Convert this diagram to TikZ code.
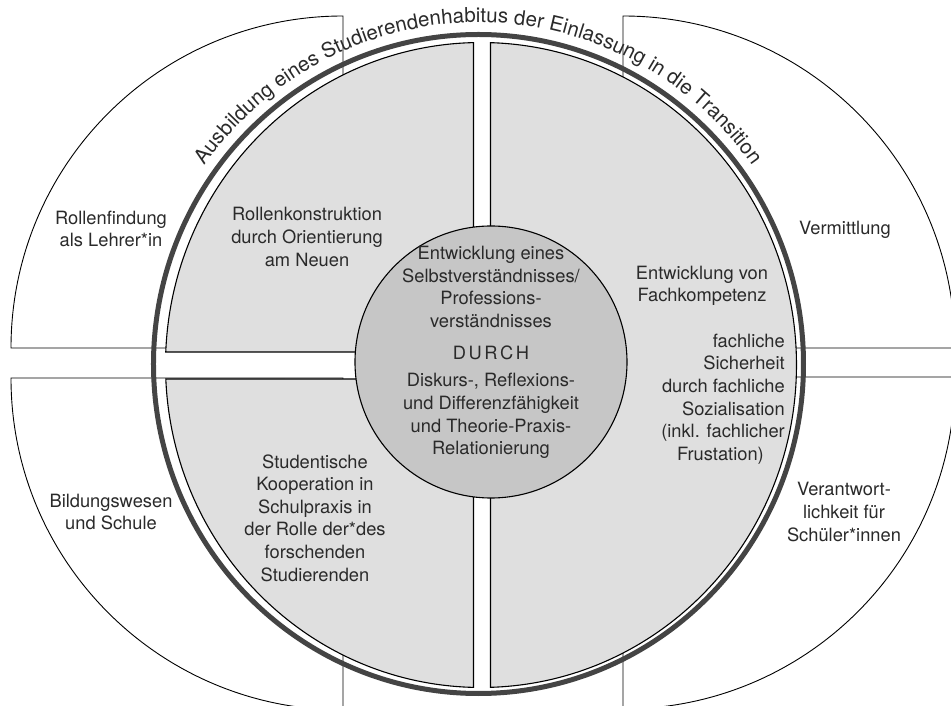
\documentclass[tikz,border=0pt]{standalone}
\usepackage{fontspec}
\setmainfont{TeX Gyre Heros}
\usetikzlibrary{decorations.text}
\definecolor{ringgray}{HTML}{444444}
\definecolor{quadgray}{HTML}{DFDFDF}
\definecolor{coregray}{HTML}{C6C6C6}
\definecolor{inkgray}{HTML}{2A2A2A}
\begin{document}
\begin{tikzpicture}[x=1pt,y=1pt,
  sector/.style={fill=white,draw=black,line width=0.9pt},
  quadrant/.style={fill=quadgray,draw=black,line width=1.1pt},
  core/.style={fill=coregray,draw=black,line width=1.1pt},
  ring/.style={draw=ringgray,line width=5pt},
  lbl/.style={text=inkgray,align=center,inner sep=0pt,
    font=\fontsize{18.3}{22.6}\selectfont},
]
\useasboundingbox (-482,-342) rectangle (469,364);
\clip (-482,-342) rectangle (469,364);

% outer quarter sectors
\draw[sector] (-139,16) -- (-471,16) arc[start angle=180,end angle=90,radius=332] -- cycle;
\draw[sector] (-139,-14) -- (-471,-14) arc[start angle=180,end angle=270,radius=332] -- cycle;
\draw[sector] (141,16) -- (473,16) arc[start angle=0,end angle=90,radius=332] -- cycle;
\draw[sector] (141,-13) -- (473,-13) arc[start angle=0,end angle=-90,radius=332] -- cycle;

% thick outer ring
\draw[ring] (-3.5,0) ellipse[x radius=325,y radius=329.5];

% inner quadrants
\begin{scope}[shift={(-1,-1)}]
\draw[quadrant] (-7.5,13) -- (91.36:315.5 and 322.5)
  arc[start angle=91.36,end angle=177.69,x radius=315.5,y radius=322.5] -- cycle;
\draw[quadrant] (-7.5,-14) -- (182.49:315.5 and 322.5)
  arc[start angle=182.49,end angle=268.64,x radius=315.5,y radius=322.5] -- cycle;
\draw[quadrant] (88.27:315.5 and 322.5)
  arc[start angle=88.27,end angle=-88.27,x radius=315.5,y radius=322.5] -- cycle;
\end{scope}

% central disk
\draw[core] (9,2) circle[radius=136];

% title along the ring
\path[decorate,decoration={text along path,text align=center,
  text={|\fontsize{20.5}{24}\selectfont\color{inkgray}|Ausbildung eines Studierendenhabitus der Einlassung in die Transition}}]
  (-3.5,0) ++(150:336.5 and 341.5) arc[start angle=150,end angle=30,x radius=336.5,y radius=341.5];

% labels
\node[lbl] (rollenfindung) at (-371,135) {Rollenfindung\\als Lehrer*in};
\node[lbl] (bildung) at (-371,-148) {Bildungswesen\\und Schule};
\node[lbl] (vermittlung) at (363,134) {Vermittlung};
\node[lbl] (verantwortung) at (362,-148) {Verantwort-\\lichkeit für\\Schüler*innen};
\node[lbl] (rollenkonstr) at (-175,127) {Rollenkonstruktion\\durch Orientierung\\am Neuen};
\node[lbl] (fachkomp) at (220,78) {Entwicklung von\\Fachkompetenz};
\node[lbl,align=right,anchor=east] (sicherheit) at (303,-35)
  {fachliche\\Sicherheit\\durch fachliche\hspace*{2pt}\\Sozialisation\hspace*{8pt}\\(inkl. fachlicher\hspace*{13pt}\\Frustation)\hspace*{21pt}};
\node[lbl] (kooperation) at (-167,-154) {Studentische\\Kooperation in\\Schulpraxis in\\der Rolle der*des\\forschenden\\Studierenden};
\node[lbl] (selbst) at (9,77) {Entwicklung eines\\Selbstverständnisses/\\Professions-\\verständnisses};
\node[lbl] (durch) at (9,11) {D\kern2.5pt U\kern2.5pt R\kern2.5pt C\kern2.5pt H};
\node[lbl] (diskurs) at (9,-52) {Diskurs-, Reflexions-\\und Differenzfähigkeit\\und Theorie-Praxis-\\Relationierung};
\end{tikzpicture}
\end{document}
